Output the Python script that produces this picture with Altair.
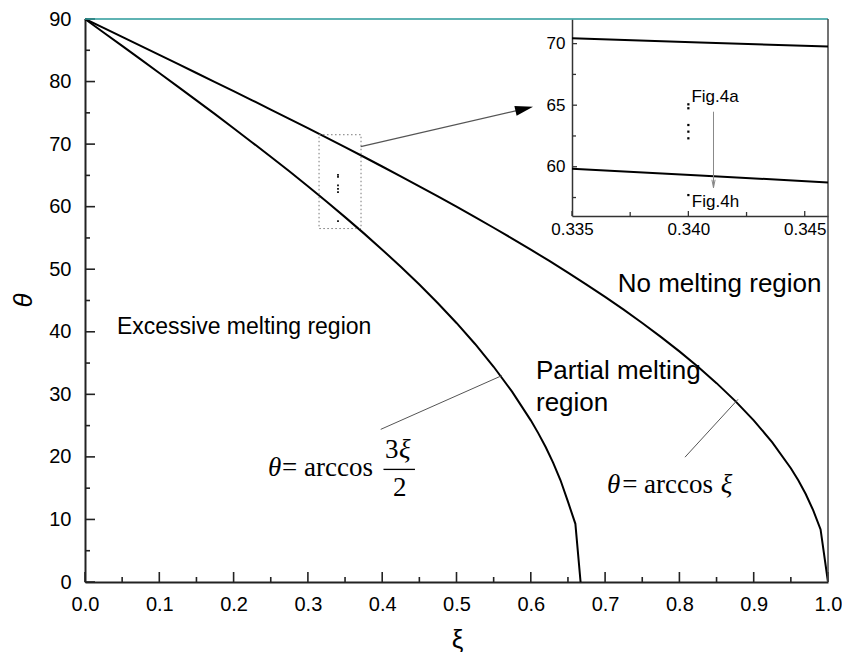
import altair as alt
import pandas as pd

# ---------------- data ----------------
xi_upper = [0.0, 0.025, 0.05, 0.075, 0.1, 0.125, 0.15, 0.175, 0.2, 0.225, 0.25, 0.275,
            0.3, 0.325, 0.35, 0.375, 0.4, 0.425, 0.45, 0.475, 0.5, 0.525, 0.55, 0.575,
            0.6, 0.625, 0.65, 0.675, 0.7, 0.725, 0.75, 0.775, 0.8, 0.825, 0.85, 0.875,
            0.9, 0.925, 0.95, 0.96, 0.97, 0.98, 0.99, 1.0]
theta_upper = [90.0, 88.57, 87.13, 85.70, 84.26, 82.82, 81.37, 79.92, 78.46, 77.00, 75.52,
               74.04, 72.54, 71.03, 69.51, 67.98, 66.42, 64.85, 63.26, 61.64, 60.00, 58.33,
               56.63, 54.90, 53.13, 51.32, 49.46, 47.55, 45.57, 43.53, 41.41, 39.19, 36.87,
               34.41, 31.79, 28.96, 25.84, 22.33, 18.19, 16.26, 14.07, 11.48, 8.4, 0.0]
xi_lower = [0.0, 0.025, 0.05, 0.075, 0.1, 0.125, 0.15, 0.175, 0.2, 0.225, 0.25, 0.275,
            0.3, 0.325, 0.35, 0.375, 0.4, 0.425, 0.45, 0.475, 0.5, 0.525, 0.55, 0.575,
            0.6, 0.61, 0.62, 0.63, 0.64, 0.65, 0.66, 0.667]
theta_lower = [90.0, 87.85, 85.70, 83.55, 81.37, 79.19, 77.00, 74.79, 72.54, 70.27, 67.98,
               65.65, 63.26, 60.83, 58.33, 55.77, 53.13, 50.39, 47.55, 44.56, 41.41, 38.05,
               34.41, 30.39, 25.84, 23.80, 21.57, 19.09, 16.26, 12.84, 9.3, 0.0]

inset_xi = [0.335, 0.3405, 0.346]
inset_upper = [70.43, 70.09, 69.76]
inset_lower = [59.83, 59.29, 58.73]

marker_xi = 0.3405
marker_theta = [65.07, 64.75, 63.39, 62.85, 62.31, 57.7]

x_major = [0.0, 0.1, 0.2, 0.3, 0.4, 0.5, 0.6, 0.7, 0.8, 0.9, 1.0]
x_minor = [0.05, 0.15, 0.25, 0.35, 0.45, 0.55, 0.65, 0.75, 0.85, 0.95]
y_major = [0, 10, 20, 30, 40, 50, 60, 70, 80, 90]
y_minor = [5, 15, 25, 35, 45, 55, 65, 75, 85]

inset_x_major = [0.335, 0.340, 0.345]
inset_x_minor = [0.3375, 0.3425]
inset_y_major = [60, 65, 70]
inset_y_minor = [57.5, 62.5, 67.5]

region_labels = ["Excessive melting region", "No melting region", "Partial melting", "region"]
region_x = [0.043, 0.717, 0.607, 0.607]
region_y = [39.6, 46.4, 32.4, 27.3]
region_size = [23, 26, 26, 26]

roman_text = ["=", "arccos", "3", "2", "=", "arccos"]
roman_x = [0.265, 0.2947, 0.4037, 0.4145, 0.723, 0.7525]
roman_y = [16.9, 16.9, 19.8, 13.7, 14.2, 14.2]
italic_text = ["θ", "ξ", "θ", "ξ"]
italic_x = [0.2463, 0.4226, 0.7025, 0.8556]
italic_y = [16.9, 19.8, 14.2, 14.2]

frac_x = [0.4017]
frac_x2 = [0.4441]
frac_y = [18.0]

pointer_x = [0.398, 0.8075]
pointer_y = [24.4, 19.95]
pointer_x2 = [0.5612, 0.8789]
pointer_y2 = [33.0, 29.2]

box_x, box_x2, box_y, box_y2 = [0.315], [0.3715], [56.5], [71.5]

arrow_x, arrow_y, arrow_x2, arrow_y2 = [0.3711], [69.6], [0.5912], [75.64]

fig_labels = ["Fig.4a", "Fig.4h"]
fig_x = [0.34013, 0.34015]
fig_y = [65.28, 56.76]

inset_arrow_x = [0.34108]
inset_arrow_y = [64.47]
inset_arrow_y2 = [58.3]
inset_head_y = [58.62]

# ---------------- layout ----------------
W, H = 743, 563
INSET_X0, INSET_X1 = 487, 743
INSET_Y0 = 197

SANS = "Liberation Sans"
SERIF = "Liberation Serif"


def xs():
    return alt.Scale(domain=[0, 1], nice=False, zero=False)


def ys():
    return alt.Scale(domain=[0, 90], nice=False, zero=False)


def ixs():
    return alt.Scale(domain=[0.335, 0.346], range=[INSET_X0, INSET_X1], nice=False, zero=False)


def iys():
    return alt.Scale(domain=[56, 72], range=[INSET_Y0, 0], nice=False, zero=False)


main_x_axis = alt.Axis(orient="bottom", values=x_major, format=".1f", labelFlush=False,
                       labelOverlap=False, ticks=False, grid=False, domainColor="#222",
                       domainWidth=2, labelFont=SANS, labelFontSize=20, labelColor="black",
                       labelPadding=12, title="ξ", titleFont=SANS, titleFontSize=26,
                       titleFontWeight="normal", titleColor="black", titleX=372, titleY=57,
                       titleBaseline="middle")
main_y_axis = alt.Axis(orient="left", values=y_major, labelFlush=False, labelOverlap=False,
                       ticks=False, grid=False, domainColor="#222", domainWidth=2,
                       labelFont=SANS, labelFontSize=20, labelColor="black", labelPadding=14,
                       title="θ", titleFont=SANS, titleFontSize=26, titleFontWeight="normal",
                       titleFontStyle="italic", titleColor="black", titleX=-62, titleY=281,
                       titleBaseline="middle", titleAngle=270)

df_up = pd.DataFrame({"xi": xi_upper, "theta": theta_upper})
df_lo = pd.DataFrame({"xi": xi_lower, "theta": theta_lower})

upper = alt.Chart(df_up).mark_line(color="black", strokeWidth=2).encode(
    x=alt.X("xi:Q", scale=xs(), axis=main_x_axis),
    y=alt.Y("theta:Q", scale=ys(), axis=main_y_axis),
)
lower = alt.Chart(df_lo).mark_line(color="black", strokeWidth=2).encode(
    x=alt.X("xi:Q", scale=xs(), axis=None),
    y=alt.Y("theta:Q", scale=ys(), axis=None),
)

# inward ticks on main axes
ymaj = alt.Chart(pd.DataFrame({"v": y_major})).mark_rule(color="#222", strokeWidth=1.6).encode(
    y=alt.Y("v:Q", scale=ys(), axis=None), x=alt.value(0), x2=alt.value(10))
ymin = alt.Chart(pd.DataFrame({"v": y_minor})).mark_rule(color="#222", strokeWidth=1.6).encode(
    y=alt.Y("v:Q", scale=ys(), axis=None), x=alt.value(0), x2=alt.value(5))
xmaj = alt.Chart(pd.DataFrame({"v": x_major})).mark_rule(color="#222", strokeWidth=1.6).encode(
    x=alt.X("v:Q", scale=xs(), axis=None), y=alt.value(H), y2=alt.value(H - 10))
xmin = alt.Chart(pd.DataFrame({"v": x_minor})).mark_rule(color="#222", strokeWidth=1.6).encode(
    x=alt.X("v:Q", scale=xs(), axis=None), y=alt.value(H), y2=alt.value(H - 5))

top_line = alt.Chart(pd.DataFrame({"a": [0]})).mark_rule(color="#2a9a9a", strokeWidth=1.6).encode(
    x=alt.value(0), x2=alt.value(W), y=alt.value(0))
right_line = alt.Chart(pd.DataFrame({"a": [0]})).mark_rule(color="#444", strokeWidth=1.5).encode(
    x=alt.value(W), y=alt.value(0), y2=alt.value(H))

regions = alt.Chart(pd.DataFrame({"t": region_labels, "x": region_x, "y": region_y,
                                  "s": region_size})).mark_text(
    align="left", baseline="alphabetic", font=SANS, color="black").encode(
    x=alt.X("x:Q", scale=xs(), axis=None), y=alt.Y("y:Q", scale=ys(), axis=None),
    text="t:N", size=alt.Size("s:Q", scale=None, legend=None))

roman = alt.Chart(pd.DataFrame({"t": roman_text, "x": roman_x, "y": roman_y})).mark_text(
    align="left", baseline="alphabetic", font=SERIF, fontSize=27, color="black").encode(
    x=alt.X("x:Q", scale=xs(), axis=None), y=alt.Y("y:Q", scale=ys(), axis=None), text="t:N")
italic = alt.Chart(pd.DataFrame({"t": italic_text, "x": italic_x, "y": italic_y})).mark_text(
    align="left", baseline="alphabetic", font=SERIF, fontSize=27, fontStyle="italic",
    color="black").encode(
    x=alt.X("x:Q", scale=xs(), axis=None), y=alt.Y("y:Q", scale=ys(), axis=None), text="t:N")
frac = alt.Chart(pd.DataFrame({"x": frac_x, "x2": frac_x2, "y": frac_y})).mark_rule(
    color="black", strokeWidth=1.3).encode(
    x=alt.X("x:Q", scale=xs(), axis=None), x2="x2:Q", y=alt.Y("y:Q", scale=ys(), axis=None))

pointers = alt.Chart(pd.DataFrame({"x": pointer_x, "y": pointer_y, "x2": pointer_x2,
                                   "y2": pointer_y2})).mark_rule(
    color="#555", strokeWidth=1).encode(
    x=alt.X("x:Q", scale=xs(), axis=None), y=alt.Y("y:Q", scale=ys(), axis=None),
    x2="x2:Q", y2="y2:Q")

box = alt.Chart(pd.DataFrame({"x": box_x, "x2": box_x2, "y": box_y, "y2": box_y2})).mark_rect(
    fill=None, stroke="#777", strokeWidth=1, strokeDash=[1.5, 2.5]).encode(
    x=alt.X("x:Q", scale=xs(), axis=None), x2="x2:Q",
    y=alt.Y("y:Q", scale=ys(), axis=None), y2="y2:Q")

main_dots = alt.Chart(pd.DataFrame({"x": [marker_xi] * len(marker_theta),
                                    "y": marker_theta})).mark_square(
    size=3, color="black", opacity=1).encode(
    x=alt.X("x:Q", scale=xs(), axis=None), y=alt.Y("y:Q", scale=ys(), axis=None))

arrow_line = alt.Chart(pd.DataFrame({"x": arrow_x, "y": arrow_y, "x2": arrow_x2,
                                     "y2": arrow_y2})).mark_rule(
    color="#555", strokeWidth=1.3).encode(
    x=alt.X("x:Q", scale=xs(), axis=None), y=alt.Y("y:Q", scale=ys(), axis=None),
    x2="x2:Q", y2="y2:Q")
arrow_head = alt.Chart(pd.DataFrame({"x": arrow_x2, "y": arrow_y2})).mark_point(
    shape="M0,-1L0.55,1L-0.55,1Z", size=324, filled=True, color="black", opacity=1,
    angle=76.8).encode(
    x=alt.X("x:Q", scale=xs(), axis=None), y=alt.Y("y:Q", scale=ys(), axis=None))

# ---------------- inset ----------------
inset_x_axis = alt.Axis(orient="bottom", offset=-(H - INSET_Y0), values=inset_x_major,
                        format=".3f", labelFlush=False, labelOverlap=False, ticks=False,
                        grid=False, domainColor="#333", domainWidth=1.5, labelFont=SANS,
                        labelFontSize=17, labelColor="black", labelPadding=5, title=None)
inset_y_axis = alt.Axis(orient="left", offset=-INSET_X0, values=inset_y_major,
                        labelFlush=False, labelOverlap=False, ticks=False, grid=False,
                        domainColor="#333", domainWidth=1.5, labelFont=SANS,
                        labelFontSize=17, labelColor="black", labelPadding=7, title=None)

df_in = pd.DataFrame({"xi": inset_xi, "up": inset_upper, "lo": inset_lower})
in_up = alt.Chart(df_in).mark_line(color="black", strokeWidth=2).encode(
    x=alt.X("xi:Q", scale=ixs(), axis=inset_x_axis),
    y=alt.Y("up:Q", scale=iys(), axis=inset_y_axis))
in_lo = alt.Chart(df_in).mark_line(color="black", strokeWidth=2).encode(
    x=alt.X("xi:Q", scale=ixs(), axis=None), y=alt.Y("lo:Q", scale=iys(), axis=None))

in_xmaj = alt.Chart(pd.DataFrame({"v": inset_x_major})).mark_rule(color="#333", strokeWidth=1.3).encode(
    x=alt.X("v:Q", scale=ixs(), axis=None), y=alt.value(INSET_Y0), y2=alt.value(INSET_Y0 - 5))
in_xmin = alt.Chart(pd.DataFrame({"v": inset_x_minor})).mark_rule(color="#333", strokeWidth=1.3).encode(
    x=alt.X("v:Q", scale=ixs(), axis=None), y=alt.value(INSET_Y0), y2=alt.value(INSET_Y0 - 4))
in_ymaj = alt.Chart(pd.DataFrame({"v": inset_y_major})).mark_rule(color="#333", strokeWidth=1.3).encode(
    y=alt.Y("v:Q", scale=iys(), axis=None), x=alt.value(INSET_X0), x2=alt.value(INSET_X0 + 5))
in_ymin = alt.Chart(pd.DataFrame({"v": inset_y_minor})).mark_rule(color="#333", strokeWidth=1.3).encode(
    y=alt.Y("v:Q", scale=iys(), axis=None), x=alt.value(INSET_X0), x2=alt.value(INSET_X0 + 4))

in_dots = alt.Chart(pd.DataFrame({"x": [0.340] * len(marker_theta), "y": marker_theta})).mark_square(
    size=5, color="black", opacity=1).encode(
    x=alt.X("x:Q", scale=ixs(), axis=None), y=alt.Y("y:Q", scale=iys(), axis=None))

in_text = alt.Chart(pd.DataFrame({"t": fig_labels, "x": fig_x, "y": fig_y})).mark_text(
    align="left", baseline="alphabetic", font=SANS, fontSize=17, color="black").encode(
    x=alt.X("x:Q", scale=ixs(), axis=None), y=alt.Y("y:Q", scale=iys(), axis=None), text="t:N")

in_arrow = alt.Chart(pd.DataFrame({"x": inset_arrow_x, "y": inset_arrow_y,
                                   "y2": inset_arrow_y2})).mark_rule(
    color="#888", strokeWidth=1).encode(
    x=alt.X("x:Q", scale=ixs(), axis=None), y=alt.Y("y:Q", scale=iys(), axis=None), y2="y2:Q")
in_head = alt.Chart(pd.DataFrame({"x": inset_arrow_x, "y": inset_head_y})).mark_point(
    shape="M-0.4,-1L0,1L0.4,-1", size=64, filled=False, color="#888", strokeWidth=1,
    opacity=1).encode(
    x=alt.X("x:Q", scale=ixs(), axis=None), y=alt.Y("y:Q", scale=iys(), axis=None))

chart = alt.layer(
    upper, lower, ymaj, ymin, xmaj, xmin, top_line, right_line, regions,
    roman, italic, frac, pointers, box, main_dots, arrow_line, arrow_head,
    in_up, in_lo, in_xmaj, in_xmin, in_ymaj, in_ymin, in_dots, in_text, in_arrow, in_head,
).resolve_scale(x="independent", y="independent").resolve_axis(
    x="independent", y="independent").properties(
    width=W, height=H,
    autosize=alt.AutoSizeParams(type="none"),
    padding={"left": 77, "top": 11, "right": 14, "bottom": 70},
    background="white",
).configure_view(stroke=None)

chart.save("out.html", embed_options={"renderer": "svg", "actions": False})
